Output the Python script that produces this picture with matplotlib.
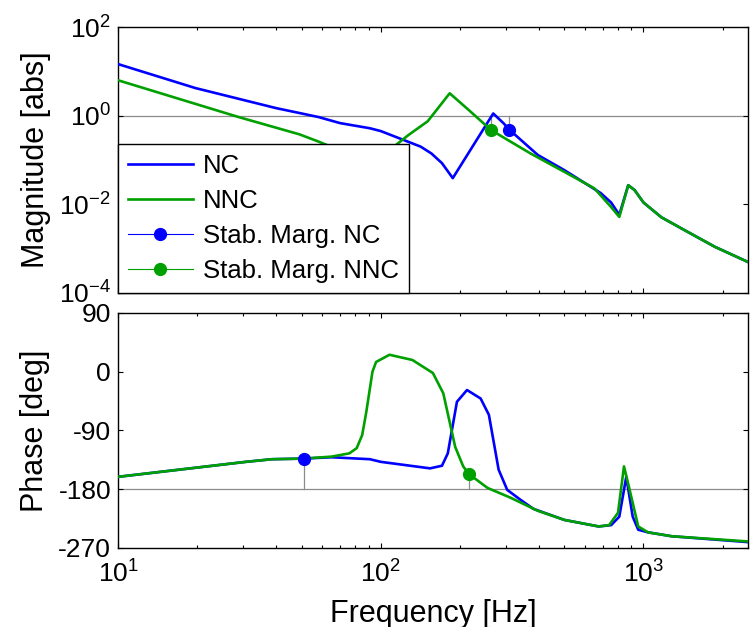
import matplotlib
matplotlib.use("Agg")
import matplotlib.pyplot as plt
import numpy as np

plt.rcParams['font.family'] = ['Liberation Sans', 'DejaVu Sans']
plt.rcParams['mathtext.fontset'] = 'custom'
plt.rcParams['mathtext.rm'] = 'Liberation Sans'
plt.rcParams['axes.unicode_minus'] = False

BLUE = '#0000ff'
GREEN = '#00a000'
GREY = '#8c8c8c'

# magnitude, NC
f_mag_nc = [10, 19.7, 40, 49, 58, 70, 91, 100, 142, 156, 171, 188, 268, 293, 309,
            396, 500, 687, 753, 809, 875, 925, 1000, 1170, 1436, 1870, 2500]
mag_nc = [14.6, 4.2, 1.48, 1.15, 0.93, 0.68, 0.52, 0.45, 0.2, 0.14, 0.085, 0.039, 1.12, 0.68, 0.48,
          0.13, 0.059, 0.018, 0.011, 0.0058, 0.027, 0.021, 0.011, 0.0051, 0.0026, 0.0011, 0.0005]

# magnitude, NNC
f_mag_nnc = [10, 28.8, 49, 58, 66, 76, 87, 98, 111, 127, 151, 183, 216, 250, 262,
             372, 500, 650, 753, 809, 875, 925, 1000, 1170, 1436, 1870, 2500]
mag_nnc = [6.3, 0.93, 0.38, 0.26, 0.19, 0.09, 0.04, 0.09, 0.19, 0.36, 0.75, 3.2, 1.35, 0.62, 0.48,
           0.14, 0.054, 0.023, 0.0087, 0.0052, 0.027, 0.021, 0.011, 0.0051, 0.0026, 0.0011, 0.0005]

# phase, NC
f_ph_nc = [10, 30.7, 38.5, 51, 65, 91, 100, 154, 171, 180, 195, 213, 240, 258, 281,
           303, 340, 381, 500, 675, 753, 809, 860, 910, 955, 1040, 1280, 2500]
ph_nc = [-161, -138, -134, -133, -131, -134, -138, -148, -144, -125, -46, -28, -41, -66, -150,
         -181, -196, -210, -227, -237, -235, -222, -161, -222, -242, -246, -252, -261]

# phase, NNC
f_ph_nnc = [10, 30.7, 38.5, 51, 65, 76, 81, 85, 88, 93, 96, 108, 132, 158, 173, 192,
            206, 217, 255, 312, 396, 500, 675, 740, 800, 843, 880, 955, 1040, 1280, 2500]
ph_nnc = [-161, -138, -134, -133, -130, -125, -117, -97, -63, 0, 15, 26, 18, -2, -33, -115,
          -145, -157, -178, -193, -213, -227, -237, -235, -216, -145, -176, -237, -246, -252, -260]

# stability margin points
gm_nc = (309, 0.48)
gm_nnc = (262, 0.48)
pm_nc = (51, -133)
pm_nnc = (217, -157)

fig = plt.figure(figsize=(7.53, 6.27), dpi=100)
ax1 = fig.add_axes([0.1567, 0.5327, 0.8367, 0.4242])
ax2 = fig.add_axes([0.1567, 0.1260, 0.8367, 0.3748])

# top: magnitude
ax1.axhline(1, color=GREY, lw=0.9, zorder=1)
ax1.plot([gm_nc[0], gm_nc[0]], [gm_nc[1], 1], color=GREY, lw=0.9, zorder=1)
ax1.plot([gm_nnc[0], gm_nnc[0]], [gm_nnc[1], 1], color=GREY, lw=0.9, zorder=1)
ax1.plot(f_mag_nc, mag_nc, color=BLUE, lw=1.9, label='NC', zorder=3)
ax1.plot(f_mag_nnc, mag_nnc, color=GREEN, lw=1.9, label='NNC', zorder=3)
ax1.plot([gm_nc[0]], [gm_nc[1]], '-o', color=BLUE, lw=0.8, ms=8.5, label='Stab. Marg. NC', zorder=4)
ax1.plot([gm_nnc[0]], [gm_nnc[1]], '-o', color=GREEN, lw=0.8, ms=8.5, label='Stab. Marg. NNC', zorder=4)
ax1.set_xscale('log')
ax1.set_yscale('log')
ax1.set_xlim(10, 2500)
ax1.set_ylim(1e-4, 1e2)
ax1.set_yticks([1e-4, 1e-2, 1, 1e2])
ax1.set_yticklabels([r'$\mathregular{10^{-4}}$', r'$\mathregular{10^{-2}}$',
                     r'$\mathregular{10^{0}}$', r'$\mathregular{10^{2}}$'])
ax1.yaxis.set_minor_locator(matplotlib.ticker.NullLocator())
ax1.tick_params(axis='x', which='both', labelbottom=False)
ax1.set_ylabel('Magnitude [abs]', fontsize=22, labelpad=6)
leg = ax1.legend(loc='lower left', bbox_to_anchor=(0, 0), fontsize=18.5, frameon=True,
                 fancybox=False, edgecolor='black', framealpha=1, borderaxespad=0,
                 handlelength=2.5, handletextpad=0.4, labelspacing=0.42, borderpad=0.4)
leg.get_frame().set_linewidth(1.0)

# bottom: phase
ax2.axhline(-180, color=GREY, lw=0.9, zorder=1)
ax2.plot([pm_nc[0], pm_nc[0]], [pm_nc[1], -180], color=GREY, lw=0.9, zorder=1)
ax2.plot([pm_nnc[0], pm_nnc[0]], [pm_nnc[1], -180], color=GREY, lw=0.9, zorder=1)
ax2.plot(f_ph_nc, ph_nc, color=BLUE, lw=1.9, zorder=3)
ax2.plot(f_ph_nnc, ph_nnc, color=GREEN, lw=1.9, zorder=3)
ax2.plot([pm_nc[0]], [pm_nc[1]], 'o', color=BLUE, ms=8.5, zorder=4)
ax2.plot([pm_nnc[0]], [pm_nnc[1]], 'o', color=GREEN, ms=8.5, zorder=4)
ax2.set_xscale('log')
ax2.set_xlim(10, 2500)
ax2.set_ylim(-270, 90)
ax2.set_yticks([-270, -180, -90, 0, 90])
ax2.set_xticks([10, 100, 1000])
ax2.set_xticklabels([r'$\mathregular{10^{1}}$', r'$\mathregular{10^{2}}$', r'$\mathregular{10^{3}}$'])
ax2.set_ylabel('Phase [deg]', fontsize=22, labelpad=6)
ax2.set_xlabel('Frequency [Hz]', fontsize=22, labelpad=8)

for ax in (ax1, ax2):
    ax.tick_params(which='both', direction='in', top=True, right=True, labelsize=19, width=0.8)
    ax.tick_params(which='major', length=3.5, pad=5)
    ax.tick_params(which='minor', length=2.5)
    for s in ax.spines.values():
        s.set_linewidth(1.0)
ax2.tick_params(axis='x', which='major', pad=9)

fig.savefig('out.png', dpi=100)
